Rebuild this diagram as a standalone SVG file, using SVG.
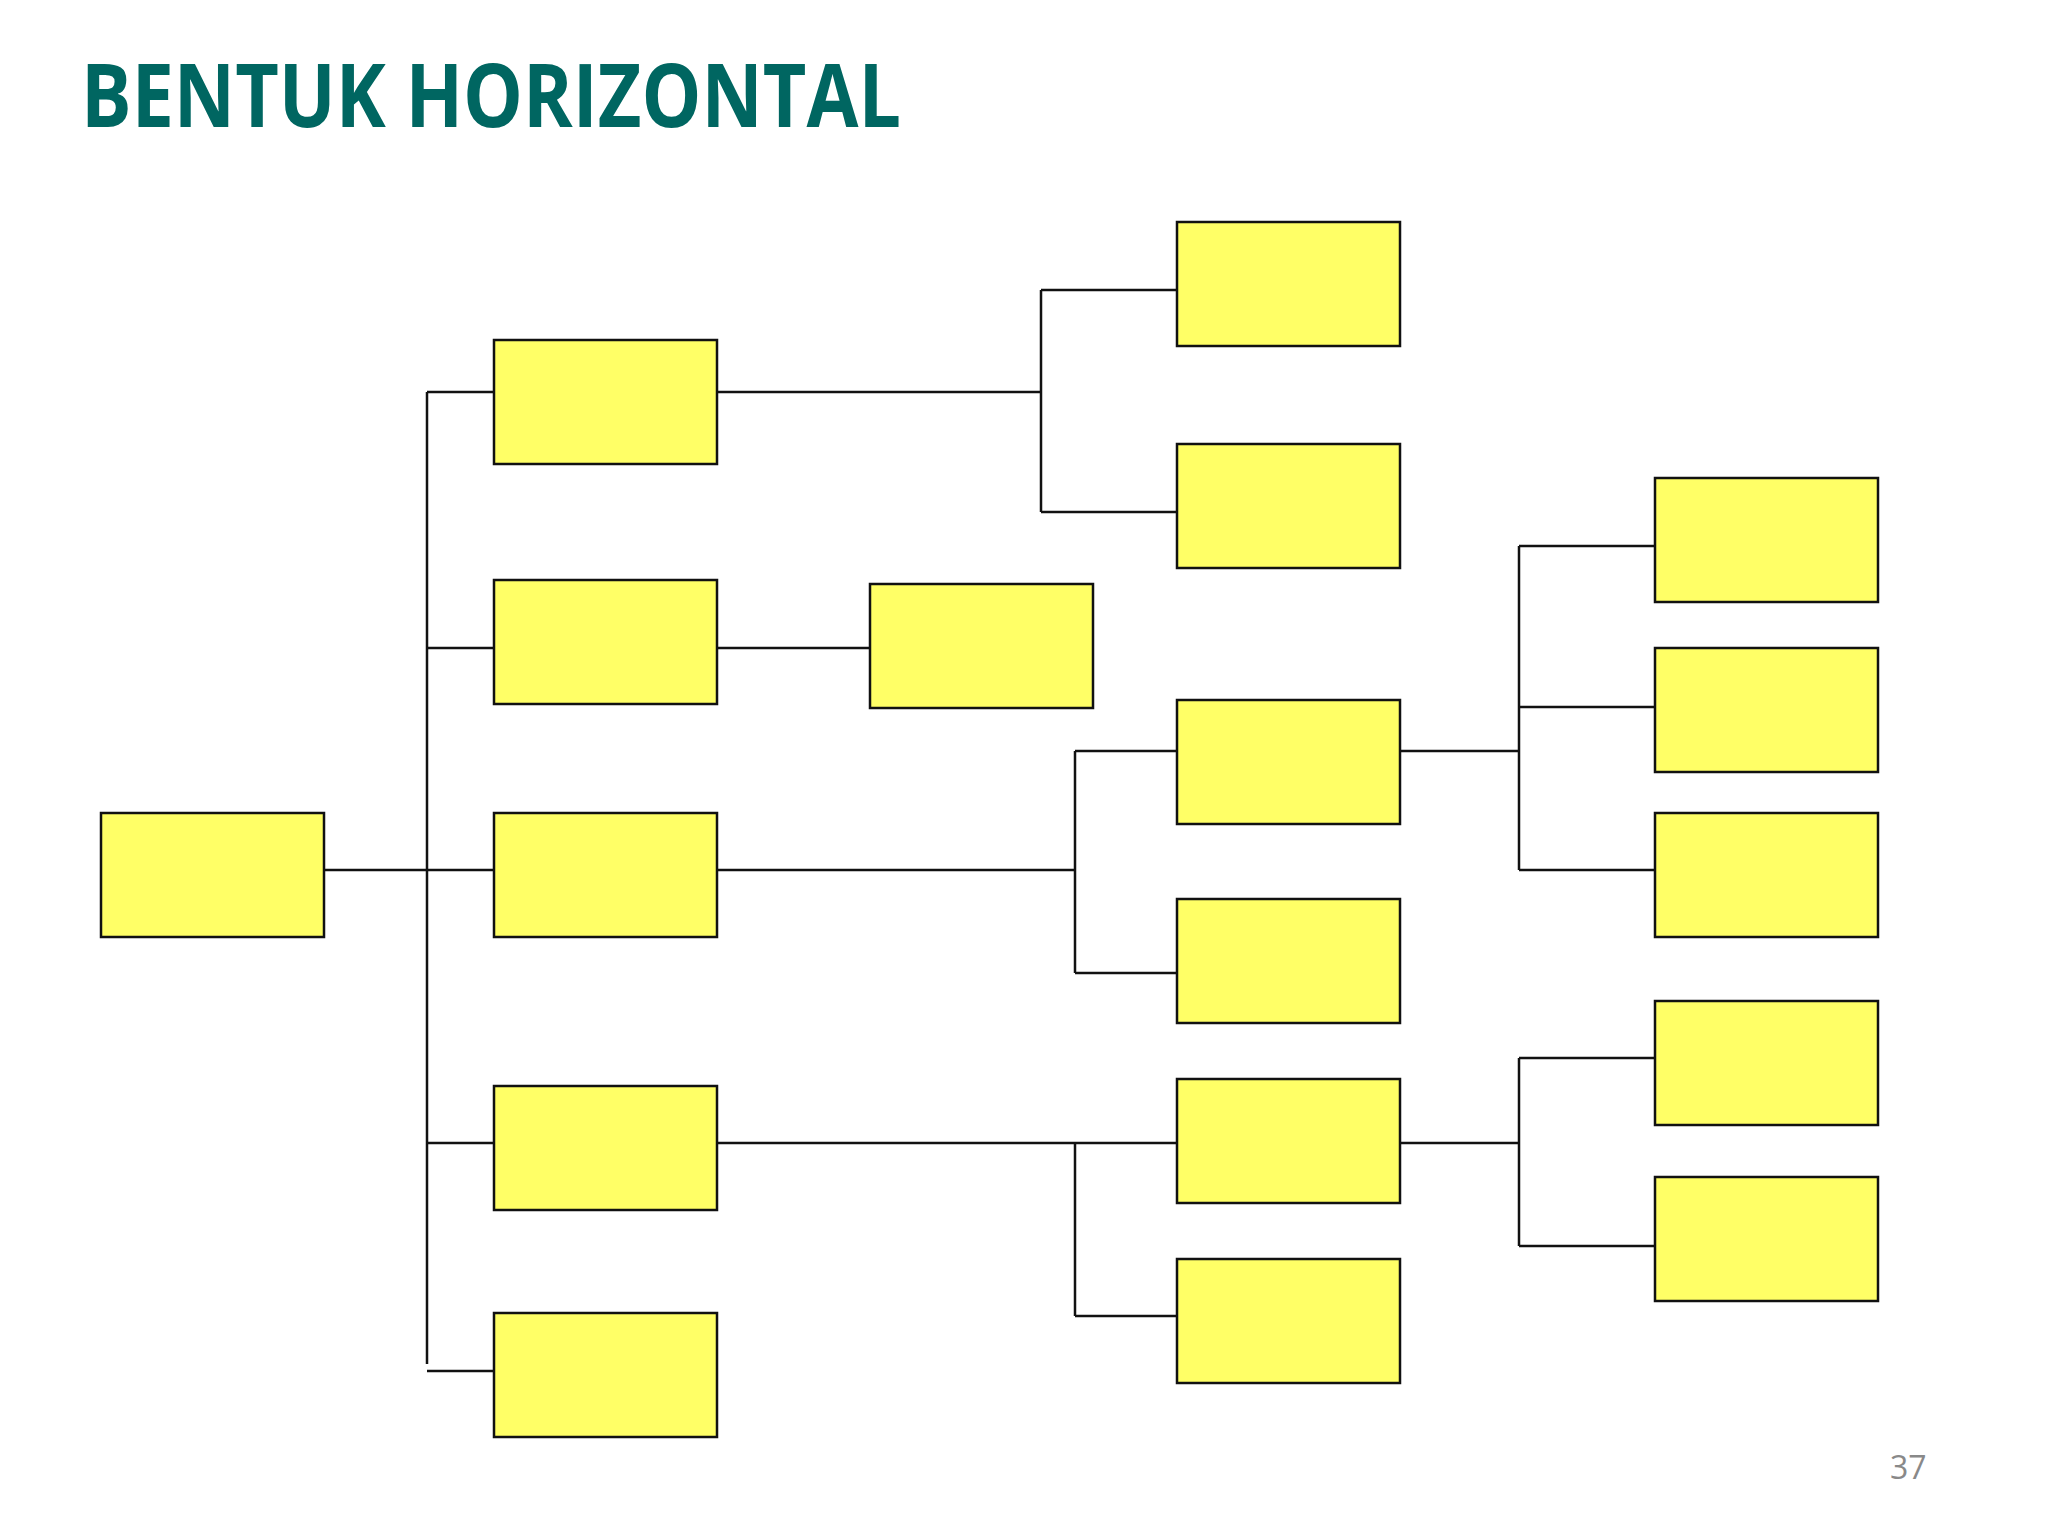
<svg xmlns="http://www.w3.org/2000/svg" width="2048" height="1536" viewBox="0 0 2048 1536">
  <style>
    .box { fill: #FFFF66; stroke: #111111; stroke-width: 2.5; }
    .conn { stroke: #111111; stroke-width: 2.5; fill: none; stroke-linecap: butt; }
    .title { font-family: "Open Sans", "Liberation Sans", Arial, sans-serif; font-weight: bold; fill: #006661; }
    .pnum { font-family: "Open Sans", "Liberation Sans", Arial, sans-serif; fill: #898989; }
  </style>
  <rect x="0" y="0" width="2048" height="1536" fill="#FFFFFF"/>
  <text class="title" x="81" y="127" font-size="87" textLength="820" lengthAdjust="spacingAndGlyphs">BENTUK HORIZONTAL</text>

  <g id="connectors">
    <path class="conn" d="M324 870 H494"/>
    <path class="conn" d="M427 392 V1364"/>
    <path class="conn" d="M427 392 H494 M427 648 H494 M427 1143 H494 M427 1371 H494"/>
    <path class="conn" d="M717 392 H1041 M1041 290 V512 M1041 290 H1177 M1041 512 H1177"/>
    <path class="conn" d="M717 648 H870"/>
    <path class="conn" d="M717 870 H1075 M1075 751 V973 M1075 751 H1177 M1075 973 H1177"/>
    <path class="conn" d="M717 1143 H1177 M1075 1143 V1316 M1075 1316 H1177"/>
    <path class="conn" d="M1400 751 H1519 M1519 546 V870 M1519 546 H1655 M1519 707 H1655 M1519 870 H1655"/>
    <path class="conn" d="M1400 1143 H1519 M1519 1058 V1246 M1519 1058 H1655 M1519 1246 H1655"/>
  </g>

  <g id="root"><rect class="box" x="101" y="813" width="223" height="124"/></g>

  <g id="n2a"><rect class="box" x="494" y="340" width="223" height="124"/></g>
  <g id="n2b"><rect class="box" x="494" y="580" width="223" height="124"/></g>
  <g id="n2c"><rect class="box" x="494" y="813" width="223" height="124"/></g>
  <g id="n2d"><rect class="box" x="494" y="1086" width="223" height="124"/></g>
  <g id="n2e"><rect class="box" x="494" y="1313" width="223" height="124"/></g>

  <g id="n3x"><rect class="box" x="870" y="584" width="223" height="124"/></g>

  <g id="n3a"><rect class="box" x="1177" y="222" width="223" height="124"/></g>
  <g id="n3b"><rect class="box" x="1177" y="444" width="223" height="124"/></g>
  <g id="n3c"><rect class="box" x="1177" y="700" width="223" height="124"/></g>
  <g id="n3d"><rect class="box" x="1177" y="899" width="223" height="124"/></g>
  <g id="n3e"><rect class="box" x="1177" y="1079" width="223" height="124"/></g>
  <g id="n3f"><rect class="box" x="1177" y="1259" width="223" height="124"/></g>

  <g id="n4a"><rect class="box" x="1655" y="478" width="223" height="124"/></g>
  <g id="n4b"><rect class="box" x="1655" y="648" width="223" height="124"/></g>
  <g id="n4c"><rect class="box" x="1655" y="813" width="223" height="124"/></g>
  <g id="n4d"><rect class="box" x="1655" y="1001" width="223" height="124"/></g>
  <g id="n4e"><rect class="box" x="1655" y="1177" width="223" height="124"/></g>

  <text class="pnum" x="1890" y="1479" font-size="32">37</text>
</svg>
